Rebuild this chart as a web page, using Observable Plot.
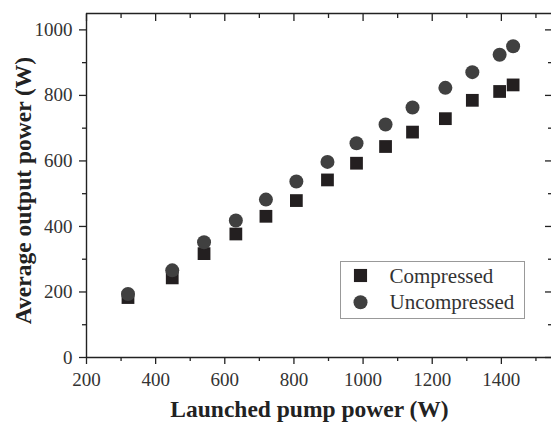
<!DOCTYPE html>
<html>
<head>
<meta charset="utf-8">
<script src="https://cdn.jsdelivr.net/npm/d3@7"></script>
<script src="https://cdn.jsdelivr.net/npm/@observablehq/plot@0.6"></script>
<style>
  html, body { margin: 0; padding: 0; background: #fff; }
  svg text { font-family: "Liberation Serif", "Times New Roman", serif; }
</style>
</head>
<body>
<div id="chart"></div>
<script>
// Data
const pump = [320, 448, 540, 632, 719, 807, 897, 981, 1065, 1143, 1238, 1316, 1395, 1434];
const compressed = [183, 243, 317, 377, 431, 479, 542, 593, 644, 688, 729, 785, 812, 832];
const uncompressed = [194, 266, 352, 418, 482, 537, 597, 654, 711, 763, 823, 871, 924, 950];
const seriesNames = ["Compressed", "Uncompressed"];

const xMajor = [200, 400, 600, 800, 1000, 1200, 1400];
const xMinor = [300, 500, 700, 900, 1100, 1300, 1500];
const yMajor = [0, 200, 400, 600, 800, 1000];
const yMinor = [100, 300, 500, 700, 900];
const xDomain = [200, 1545];
const yDomain = [0, 1050];
const xTitle = "Launched pump power (W)";
const yTitle = "Average output power (W)";

const compData = pump.map((p, i) => ({p, v: compressed[i]}));
const uncData = pump.map((p, i) => ({p, v: uncompressed[i]}));

const font = "Liberation Serif";
const ink = "#222";
const blank = () => "";
const plain = d => String(d);

const chart = Plot.plot({
  width: 551,
  height: 422,
  marginLeft: 86,
  marginRight: 0,
  marginTop: 13,
  marginBottom: 65,
  x: {domain: xDomain},
  y: {domain: yDomain},
  style: {fontFamily: font, fontSize: "19px", color: "#333", background: "#fff"},
  marks: [
    // frame lines
    Plot.ruleX([xDomain[0]], {stroke: ink, strokeWidth: 1.4}),
    Plot.ruleY([yDomain[0], yDomain[1]], {stroke: ink, strokeWidth: 1.4}),
    // bottom axis
    Plot.axisX(xMajor, {anchor: "bottom", tickSize: 7, tickPadding: 8, tickFormat: plain, label: null, stroke: ink, strokeWidth: 1.3, fontSize: 19, fontFamily: font}),
    Plot.axisX(xMinor, {anchor: "bottom", tickSize: 4, tickFormat: blank, label: null, stroke: ink, strokeWidth: 1.3}),
    // top axis (inward ticks)
    Plot.axisX(xMajor, {anchor: "top", tickSize: -7, tickFormat: blank, label: null, stroke: ink, strokeWidth: 1.3}),
    Plot.axisX(xMinor, {anchor: "top", tickSize: -4, tickFormat: blank, label: null, stroke: ink, strokeWidth: 1.3}),
    // left axis
    Plot.axisY(yMajor, {anchor: "left", tickSize: 7, tickPadding: 7, tickFormat: plain, label: null, stroke: ink, strokeWidth: 1.3, fontSize: 19, fontFamily: font}),
    Plot.axisY(yMinor, {anchor: "left", tickSize: 4, tickFormat: blank, label: null, stroke: ink, strokeWidth: 1.3}),
    // right axis (inward ticks)
    Plot.axisY(yMajor, {anchor: "right", tickSize: -7, tickFormat: blank, label: null, stroke: ink, strokeWidth: 1.3}),
    Plot.axisY(yMinor, {anchor: "right", tickSize: -4, tickFormat: blank, label: null, stroke: ink, strokeWidth: 1.3}),
    // axis titles
    Plot.text([xTitle], {text: d => d, frameAnchor: "bottom", textAnchor: "middle", dx: -9.5, dy: 52, lineAnchor: "middle", fontWeight: "bold", fontSize: 23.5, fontFamily: font, fill: ink}),
    Plot.text([yTitle], {text: d => d, frameAnchor: "left", textAnchor: "middle", rotate: -90, dx: -63, dy: 5, lineAnchor: "middle", fontWeight: "bold", fontSize: 23.5, fontFamily: font, fill: ink}),
    // data
    Plot.dot(compData, {x: "p", y: "v", symbol: "square", r: 7.2, fill: "#231f20"}),
    Plot.dot(uncData, {x: "p", y: "v", symbol: "circle", r: 7, fill: "#404040"}),
    // legend box
    Plot.frame({insetLeft: 254, insetTop: 248, insetRight: 27, insetBottom: 39, stroke: "#999", strokeWidth: 1}),
    Plot.dot([seriesNames[0]], {frameAnchor: "top-left", dx: 274, dy: 262, symbol: "square", r: 7.4, fill: "#231f20"}),
    Plot.dot([seriesNames[1]], {frameAnchor: "top-left", dx: 274, dy: 288.7, symbol: "circle", r: 7, fill: "#404040"}),
    Plot.text([seriesNames[0]], {text: d => d, frameAnchor: "top-left", dx: 303, dy: 262.5, textAnchor: "start", lineAnchor: "middle", fontSize: 21, fontFamily: font, fill: "#333"}),
    Plot.text([seriesNames[1]], {text: d => d, frameAnchor: "top-left", dx: 303, dy: 289, textAnchor: "start", lineAnchor: "middle", fontSize: 21, fontFamily: font, fill: "#333"})
  ]
});
document.getElementById("chart").appendChild(chart);
</script>
</body>
</html>
